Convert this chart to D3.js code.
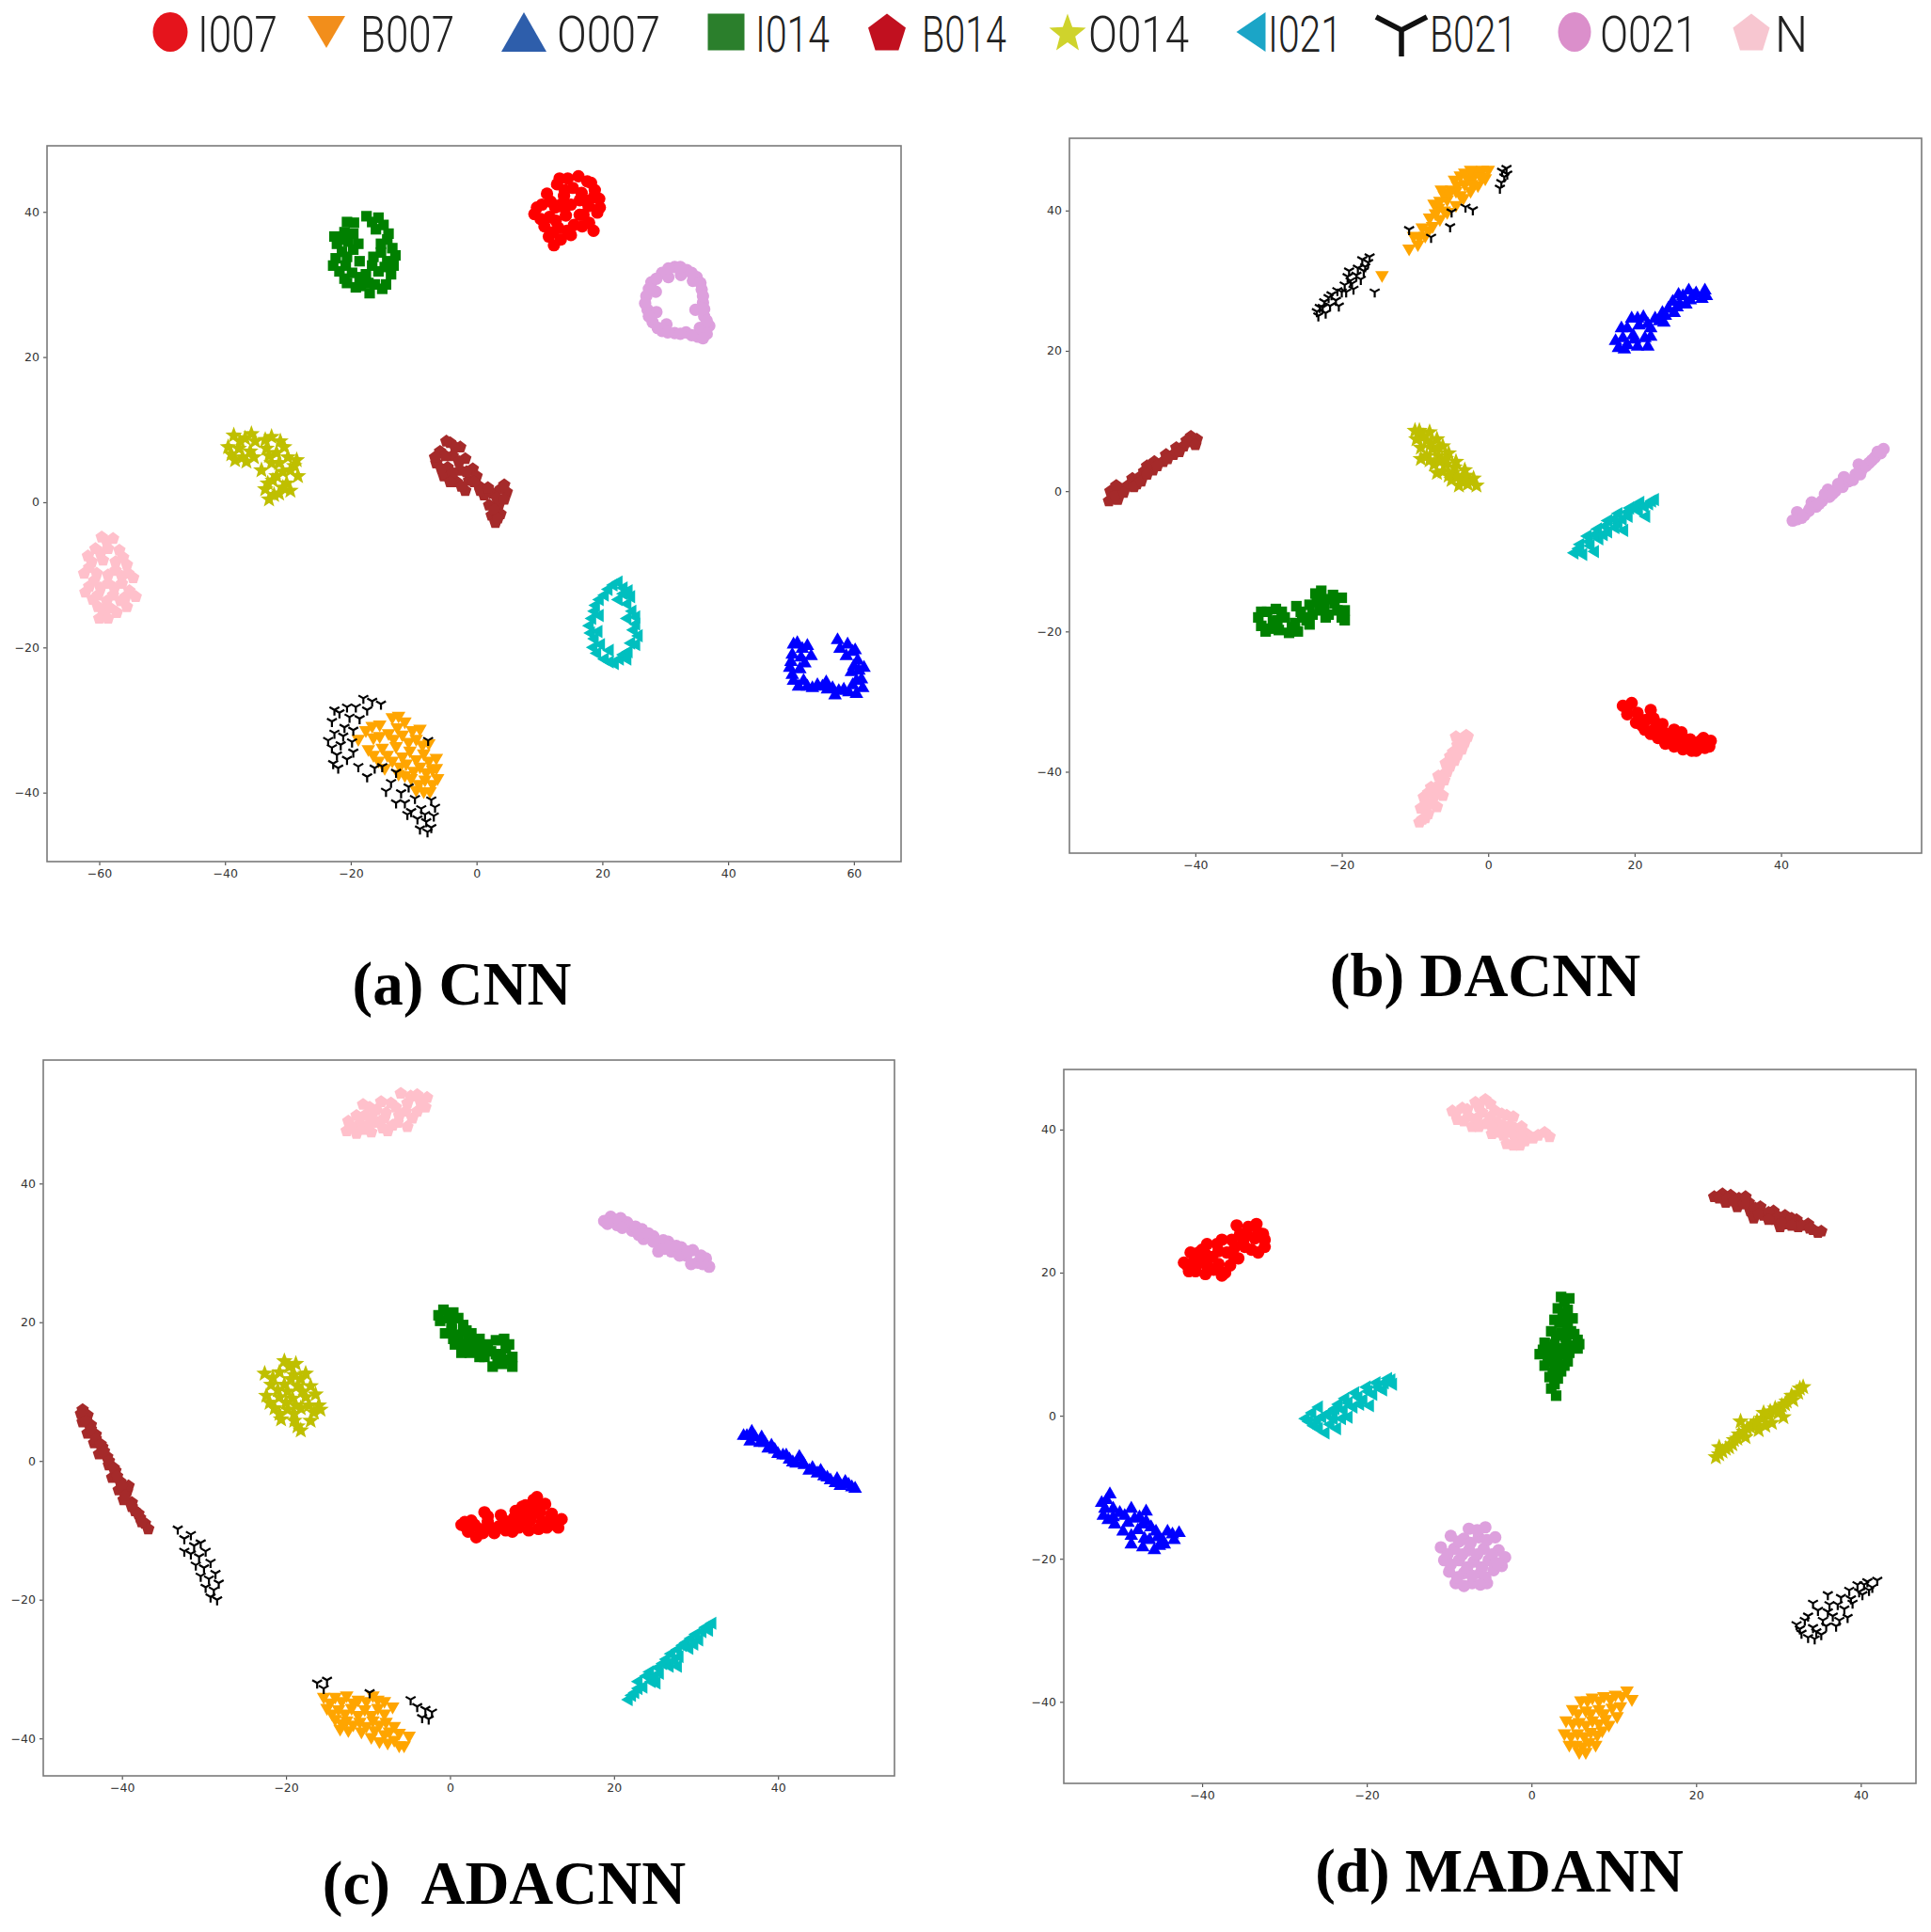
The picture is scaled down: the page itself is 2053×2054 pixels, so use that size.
<!DOCTYPE html>
<html><head><meta charset="utf-8">
<script src="https://cdn.jsdelivr.net/npm/d3@7"></script>
<style>body{margin:0;background:#fff}</style>
</head><body>
<svg id="chart" width="2053" height="2054" xmlns="http://www.w3.org/2000/svg"></svg>
<script>
// ---------------- DATA ----------------
const classNames = ["I007","B007","O007","I014","B014","O014","I021","B021","O021","N"];
const markerTypes = ["circle","triDown","triUp","square","pentagon","star","triLeft","tri1","circle","pentagon"];
const plotColors = ["#ff0000","#ffa500","#0000ff","#008000","#a52a2a","#bfbf00","#00bfbf","#000000","#dda0dd","#ffc0cb"];
const legendColors = ["#e5141c","#f28e1b","#2e5eab","#2b7f2c","#c1101f","#cfd32c","#1ba5c7","#111111","#db8fcb","#f7c6d0"];
const panelTitles = ["(a) CNN","(b) DACNN","(c)\u00a0\u00a0ADACNN","(d) MADANN"];
const xTicksCNN = [-60,-40,-20,0,20,40,60];
const ticks40 = [-40,-20,0,20,40];

// (a) CNN
const cnn_I007 = [[14.5,44.6],[16.2,44.9],[17.6,44.2],[12.8,43.8],[15.3,43.3],[18.8,43.0],[11.2,42.5],[13.9,42.2],[16.7,42.6],[19.5,41.8],[10.4,41.0],[12.5,40.6],[15.0,41.0],[17.8,40.8],[9.2,39.7],[11.6,39.3],[14.2,39.5],[16.4,39.6],[19.2,39.9],[10.8,38.0],[13.0,37.8],[15.5,38.2],[17.9,38.5],[11.5,36.6],[13.4,36.2],[15.0,36.8],[12.3,35.4],[18.6,37.4],[16.4,41.6],[14.0,40.5],
  [13.2,44.6],[18.2,44.0],[11.8,41.4],[14.0,43.0],[17.2,41.6],[18.6,42.0],[10.2,39.0],[12.6,38.8],[16.8,38.0],[14.4,37.4],[12.2,37.2],[9.6,40.6],[19.6,40.6],[17.0,39.6],[13.4,41.0]];
const cnn_B007 = [[-13.4,-29.6],[-11.4,-30.2],[-9.0,-31.2],[-15.4,-30.6],[-17.6,-31.4],[-18.8,-32.6],[-16.4,-32.4],[-14.0,-31.8],[-11.8,-32.0],[-9.6,-32.6],[-7.6,-33.2],[-17.2,-34.0],[-15.0,-33.8],[-12.8,-33.6],[-10.6,-34.2],[-8.4,-34.6],[-6.4,-35.2],[-15.6,-35.6],[-13.4,-35.6],[-11.2,-36.0],[-9.0,-36.4],[-7.0,-36.8],[-12.4,-37.4],[-10.4,-38.0],[-8.2,-38.2],[-6.2,-38.0],[-9.6,-39.6],[-7.4,-39.8],
  [-12.4,-29.4],[-16.6,-30.8],[-10.2,-31.4],[-12.6,-31.0],[-15.4,-32.2],[-13.2,-32.6],[-10.8,-33.0],[-8.6,-33.4],[-16.4,-34.8],[-14.2,-34.8],[-11.8,-35.0],[-9.6,-35.4],[-7.6,-35.6],[-14.6,-36.6],[-12.2,-36.4],[-10.0,-37.0],[-8.0,-37.2],[-6.4,-36.6],[-11.4,-37.6],[-9.2,-38.8],[-7.0,-38.8],[-8.4,-39.8]];
const cnn_O007 = [[51.0,-19.4],[52.6,-19.8],[57.4,-19.0],[59.0,-19.6],[60.2,-20.4],[50.2,-21.0],[51.6,-21.4],[53.2,-21.2],[58.8,-21.2],[60.6,-21.8],[61.6,-22.8],[49.8,-22.8],[51.4,-23.0],[59.6,-23.4],[61.2,-24.4],[50.4,-24.6],[52.0,-24.6],[59.8,-25.2],[53.4,-25.6],[55.0,-25.4],[56.6,-25.6],[58.4,-25.8],[57.0,-26.6],[60.4,-26.4],[55.6,-24.8],
  [50.4,-19.6],[51.8,-20.2],[57.8,-20.2],[59.8,-20.6],[50.0,-22.0],[52.2,-22.2],[60.0,-22.6],[50.2,-23.8],[60.8,-23.2],[51.2,-25.4],[52.6,-25.4],[54.2,-25.2],[55.8,-25.8],[57.6,-26.0],[59.2,-26.2],[61.4,-25.6],[60.4,-24.6]];
const cnn_I014 = [[-19.5,38.5],[-17.5,39.4],[-15.6,39.2],[-21.0,37.2],[-16.0,37.6],[-14.0,37.0],[-22.2,35.6],[-20.4,35.9],[-15.2,35.6],[-13.4,35.0],[-22.4,33.6],[-20.6,33.8],[-18.6,33.2],[-16.4,33.8],[-14.2,33.2],[-21.8,31.8],[-19.8,31.6],[-17.6,31.4],[-15.6,31.8],[-13.6,31.4],[-20.6,30.2],[-18.4,29.8],[-16.2,30.0],[-14.4,30.0],[-17.0,28.8],[-19.6,37.0],[-21.4,34.5],
  [-20.6,38.6],[-16.6,38.6],[-14.8,38.2],[-22.6,36.6],[-14.2,36.2],[-21.4,36.2],[-12.9,34.0],[-19.6,34.8],[-15.2,34.4],[-22.8,32.6],[-20.8,32.6],[-16.6,32.6],[-14.6,32.4],[-18.6,31.0],[-21.0,30.8],[-15.0,29.4],[-19.2,29.6],[-17.2,30.2],[-13.2,32.6],[-18.8,35.6]];
const cnn_B014 = [[-4.2,8.2],[-2.6,7.6],[-5.8,7.0],[-3.8,6.4],[-1.8,6.0],[-6.4,5.4],[-4.6,4.8],[-2.6,4.4],[-0.6,4.6],[-5.2,3.6],[-3.2,2.8],[-1.2,3.0],[0.4,2.2],[-1.8,1.6],[1.2,1.0],[2.6,1.2],[3.8,1.8],[4.8,1.4],[2.0,-0.4],[3.6,-0.2],[2.4,-1.8],[3.8,-1.6],[3.0,-2.8],[0.0,3.6],[4.4,2.4],
  [-3.4,7.6],[-5.0,6.4],[-2.8,5.6],[-5.6,4.6],[-3.8,4.0],[-1.6,4.2],[-4.2,2.8],[-0.4,2.8],[-2.4,2.2],[0.6,1.6],[1.8,2.0],[3.2,0.6],[2.8,-1.0],[4.4,0.4],[3.4,-2.2],[-6.6,6.2],[-4.8,8.4]];
const cnn_O014 = [[-38.6,9.2],[-36.8,8.8],[-35.2,8.4],[-39.5,7.6],[-37.8,7.4],[-36.0,7.0],[-38.4,5.8],[-36.6,5.6],[-32.6,9.0],[-31.2,8.4],[-33.4,7.4],[-31.8,6.8],[-30.0,6.2],[-29.0,5.0],[-32.6,5.4],[-34.2,4.4],[-30.8,4.2],[-28.4,3.6],[-32.4,3.0],[-30.2,2.6],[-33.6,1.8],[-31.4,1.2],[-33.0,0.4],[-29.6,1.6],
  [-37.6,8.4],[-35.8,9.4],[-39.0,6.6],[-37.2,6.2],[-35.4,6.2],[-33.6,8.6],[-30.6,7.6],[-33.0,6.4],[-31.4,5.4],[-29.6,4.4],[-31.8,3.6],[-33.2,2.6],[-30.8,2.0],[-28.6,5.8],[-32.2,1.0]];
const cnn_I021 = [[21.8,-11.4],[23.4,-11.8],[20.4,-12.8],[24.6,-13.0],[19.0,-14.2],[18.4,-16.0],[19.6,-15.6],[18.2,-18.0],[19.4,-17.8],[18.6,-20.0],[19.8,-19.6],[20.4,-21.6],[22.0,-22.2],[23.4,-21.0],[21.2,-20.4],[24.8,-15.0],[25.4,-16.8],[25.8,-18.4],[24.6,-19.4],[25.0,-17.6],[24.0,-14.0],[22.6,-13.4],[24.2,-20.6],
  [21.0,-12.0],[22.6,-11.0],[24.2,-12.2],[19.6,-13.4],[18.8,-15.0],[18.0,-17.0],[18.8,-18.8],[19.2,-20.8],[21.2,-22.0],[22.8,-21.6],[24.0,-21.6],[25.4,-15.8],[25.4,-19.6],[24.0,-16.0],[23.4,-12.6]];
const cnn_B021 = [[-18.0,-27.0],[-16.6,-27.4],[-15.2,-27.8],[-19.2,-28.2],[-17.4,-28.6],[-21.8,-29.0],[-20.2,-29.6],[-23.0,-30.2],[-21.0,-31.0],[-22.6,-31.8],[-19.6,-31.4],[-23.6,-32.8],[-21.6,-33.4],[-19.8,-33.0],[-22.2,-34.8],[-20.6,-35.4],[-18.8,-36.4],[-22.0,-36.6],[-17.4,-37.8],[-15.0,-36.4],[-13.6,-38.6],[-14.4,-39.8],[-12.0,-40.0],[-10.8,-39.2],[-11.4,-41.4],[-9.8,-40.8],[-10.4,-42.6],[-8.8,-42.2],[-9.4,-43.6],[-8.0,-44.0],[-7.2,-44.8],[-6.8,-43.2],[-7.7,-32.8],[-7.2,-41.0],
  [-22.6,-28.6],[-20.6,-28.2],[-18.6,-29.8],[-23.0,-33.8],[-21.2,-32.2],[-22.8,-36.0],[-19.6,-34.4],[-16.2,-36.6],[-12.8,-37.2],[-12.8,-41.4],[-11.0,-43.0],[-8.2,-43.0],[-9.0,-45.0],[-7.8,-45.4],[-6.6,-42.0]];
const cnn_O021 = [[29.5,31.6],[31.5,32.4],[33.4,32.0],[35.0,31.0],[27.8,30.3],[27.0,28.4],[27.2,26.5],[28.0,24.8],[29.5,23.6],[31.5,23.3],[33.3,23.4],[35.2,22.8],[35.8,29.3],[36.0,27.5],[36.2,25.6],[37.0,24.3],[35.5,24.0],[30.5,31.0],[28.5,29.0],[28.6,26.2],[30.2,24.5],[34.4,30.5],[34.8,26.5],[36.6,23.2],[32.5,31.3],
  [28.6,30.8],[30.5,32.2],[32.4,32.4],[34.2,31.6],[27.4,29.4],[26.8,27.4],[27.4,25.6],[28.8,24.0],[30.4,23.4],[32.4,23.2],[34.2,23.0],[35.6,30.2],[36.0,28.4],[36.2,26.6],[36.6,25.0],[36.0,22.6]];
const cnn_N = [[-59.6,-4.8],[-57.8,-5.0],[-60.6,-6.4],[-58.6,-6.4],[-56.8,-6.6],[-61.2,-8.2],[-59.4,-8.0],[-57.4,-8.2],[-55.6,-8.6],[-62.4,-9.8],[-60.4,-9.8],[-58.6,-10.0],[-56.4,-10.2],[-54.6,-10.4],[-61.6,-11.6],[-59.8,-11.8],[-57.6,-11.8],[-55.2,-12.2],[-61.0,-13.4],[-58.8,-13.6],[-56.6,-13.6],[-54.2,-13.0],[-59.4,-15.0],[-57.2,-15.2],[-60.0,-16.0],
  [-58.8,-5.4],[-61.8,-7.4],[-59.8,-7.0],[-56.2,-7.6],[-61.6,-9.0],[-57.4,-9.4],[-55.4,-9.8],[-60.8,-10.8],[-58.6,-11.2],[-56.4,-11.2],[-62.2,-12.4],[-60.2,-12.8],[-57.8,-12.8],[-55.8,-13.0],[-60.2,-14.4],[-58.2,-14.6],[-55.6,-14.4],[-58.6,-16.0]];

// (b) DACNN
const dacnn_I007 = [[18.4,-30.6],[19.6,-30.2],[19.0,-31.8],[20.4,-31.6],[20.2,-33.0],[21.6,-32.6],[21.4,-34.0],[22.8,-33.8],[23.2,-35.2],[24.4,-34.6],[24.2,-36.0],[25.6,-35.6],[26.4,-34.4],[26.6,-36.8],[27.6,-35.4],[27.8,-37.0],[28.6,-36.0],[29.4,-35.2],[30.4,-35.6],[29.6,-36.6],[22.2,-31.2],[25.4,-34.0],
  [19.0,-30.8],[20.6,-32.4],[21.0,-33.4],[22.2,-34.6],[23.4,-34.2],[24.6,-35.4],[25.4,-36.4],[26.2,-35.2],[27.2,-36.2],[28.4,-37.0],[29.0,-35.6],[30.2,-36.4],[22.6,-32.4],[23.8,-33.2]];
const dacnn_B007 = [[-10.8,34.6],[-9.6,35.2],[-10.2,36.4],[-8.6,36.4],[-9.0,37.6],[-7.6,37.8],[-8.0,39.0],[-6.6,38.8],[-5.6,39.8],[-6.8,40.4],[-4.4,40.8],[-5.6,41.6],[-3.4,41.8],[-4.4,42.8],[-2.4,42.8],[-3.2,43.8],[-1.4,43.6],[-2.0,44.8],[-0.4,44.6],[-0.8,45.8],[-1.6,45.6],[0.0,45.8],[-5.0,43.0],[-6.0,42.2],[-7.2,39.6],[-3.8,45.0],[-14.5,30.8],
  [-6.6,41.4],[-5.4,42.6],[-4.2,43.6],[-2.8,44.6],[-1.0,44.8],[-4.6,44.4],[-3.2,45.4],[-2.4,45.8],[-7.4,41.0],[-6.0,40.0],[-9.4,36.2],[-8.2,37.2],[-3.8,42.2],[-2.2,43.8],[-6.4,43.0]];
const dacnn_O007 = [[17.8,20.4],[19.0,20.8],[20.4,20.6],[18.4,21.8],[19.8,22.2],[21.4,21.8],[19.0,23.2],[20.6,23.6],[22.2,23.2],[21.2,24.8],[22.8,24.6],[23.8,25.4],[24.6,26.0],[25.4,25.4],[25.2,27.0],[26.2,26.6],[26.6,27.8],[27.6,27.2],[28.4,28.2],[27.4,28.6],[29.2,27.4],[29.8,27.8],[22.2,22.0],[24.0,24.0],
  [18.6,20.2],[20.0,21.6],[18.2,23.2],[20.4,24.6],[21.8,23.8],[23.4,24.2],[24.2,25.0],[25.8,26.2],[27.0,26.6],[28.0,27.8],[29.6,28.6],[26.0,28.0],[21.8,20.6],[17.4,21.4],[19.6,24.6]];
const dacnn_I014 = [[-31.4,-18.0],[-30.2,-17.2],[-31.0,-19.2],[-29.4,-18.6],[-28.6,-19.8],[-27.8,-18.0],[-29.0,-16.8],[-27.2,-20.2],[-26.4,-18.8],[-25.6,-17.2],[-24.8,-18.4],[-24.4,-16.2],[-23.6,-14.6],[-23.0,-17.0],[-22.2,-15.4],[-21.8,-17.6],[-21.0,-16.0],[-20.0,-15.2],[-19.6,-17.0],[-19.6,-18.4],[-22.8,-14.2],[-26.2,-16.4],[-30.4,-20.0],
  [-31.0,-17.2],[-29.8,-19.6],[-28.2,-17.2],[-26.8,-19.4],[-25.4,-18.0],[-24.0,-17.6],[-23.4,-15.8],[-22.4,-16.6],[-21.2,-14.8],[-20.6,-17.0],[-20.0,-18.0],[-24.4,-19.0],[-28.8,-18.4],[-26.0,-20.0],[-22.2,-18.0]];
const dacnn_B014 = [[-51.8,-1.4],[-50.6,-1.2],[-51.6,0.0],[-50.2,0.2],[-49.2,0.8],[-48.6,1.8],[-47.6,2.0],[-47.0,2.8],[-45.8,3.0],[-45.6,4.2],[-44.4,4.2],[-44.0,5.2],[-43.0,5.2],[-42.6,6.2],[-41.6,6.4],[-40.8,7.0],[-39.8,7.4],[-40.6,7.8],[-46.6,3.6],[-48.0,1.0],
  [-51.0,-0.6],[-49.8,-0.2],[-48.4,0.6],[-47.4,1.4],[-46.6,2.4],[-45.2,3.6],[-43.8,4.6],[-42.2,5.6],[-41.2,7.2],[-40.0,6.6],[-50.8,0.8]];
const dacnn_O014 = [[-9.4,8.6],[-8.0,8.4],[-9.8,7.4],[-8.4,7.2],[-7.0,7.4],[-9.2,6.2],[-7.6,6.0],[-6.2,6.4],[-8.4,5.0],[-6.8,5.0],[-5.4,5.4],[-7.4,3.8],[-5.8,3.8],[-4.4,4.2],[-6.2,2.8],[-4.8,2.6],[-3.2,3.0],[-5.0,1.6],[-3.6,1.4],[-2.0,1.8],[-4.0,0.8],[-1.6,0.8],
  [-8.8,7.8],[-7.8,6.8],[-6.8,6.2],[-9.2,4.6],[-8.0,4.4],[-6.6,4.2],[-7.0,2.6],[-5.4,2.2],[-4.2,2.0],[-3.0,2.2],[-2.8,1.0],[-5.8,4.6],[-4.6,3.4],[-10.0,8.6]];
const dacnn_I021 = [[11.8,-8.8],[13.0,-9.0],[12.6,-7.6],[14.0,-7.8],[13.6,-6.4],[15.2,-6.8],[15.0,-5.4],[16.4,-5.8],[16.4,-4.2],[17.8,-4.6],[17.8,-3.2],[19.2,-3.6],[19.4,-2.4],[20.6,-2.8],[20.8,-1.6],[22.0,-1.8],[22.8,-1.2],[21.6,-3.6],[18.6,-5.6],[14.6,-8.6],
  [12.4,-8.2],[13.8,-7.2],[14.6,-6.2],[15.8,-6.2],[16.0,-5.0],[17.2,-4.0],[18.4,-4.0],[19.0,-3.0],[20.2,-2.2],[21.4,-2.2],[22.4,-1.4],[17.4,-5.2]];
const dacnn_B021 = [[-23.2,25.0],[-22.2,25.4],[-23.0,26.2],[-21.6,26.4],[-22.4,27.0],[-20.8,27.2],[-21.4,28.0],[-20.0,28.4],[-19.6,29.4],[-18.6,29.6],[-19.2,30.6],[-18.0,30.8],[-17.8,31.8],[-16.8,32.0],[-17.2,33.0],[-16.2,33.4],[-20.4,26.4],[-18.4,28.8],[-15.5,28.4],[1.9,45.6],[2.5,46.0],[2.2,44.8],[1.8,44.0],[2.6,45.2],[1.6,43.2],[-10.8,37.3],[-7.8,36.2],[-5.2,37.7],[-5.0,39.8],[-3.1,40.5],[-2.1,40.1],
  [-22.6,26.2],[-21.8,27.6],[-20.6,28.6],[-19.4,28.4],[-18.8,30.0],[-17.4,30.2],[-17.0,31.4],[-16.4,32.6],[-23.4,25.6],[-19.0,31.4]];
const dacnn_O021 = [[41.6,-4.2],[42.8,-3.8],[42.2,-3.0],[43.8,-2.8],[44.8,-2.2],[45.6,-1.4],[46.6,-0.8],[47.4,0.0],[46.4,0.2],[48.4,0.6],[49.2,1.4],[48.6,2.0],[50.2,2.4],[51.0,3.0],[50.6,3.8],[52.0,4.0],[52.8,4.8],[53.6,5.4],[54.0,6.0],[44.2,-1.6],
  [42.2,-4.0],[43.2,-3.4],[44.0,-2.4],[45.2,-1.8],[46.0,-0.4],[47.0,-0.4],[47.8,1.0],[49.8,1.6],[50.8,2.4],[51.6,3.6],[52.4,4.4],[53.2,5.6]];
const dacnn_N = [[-9.0,-46.8],[-8.2,-46.0],[-9.2,-45.2],[-8.0,-44.6],[-8.8,-43.6],[-7.4,-43.4],[-7.8,-42.2],[-6.6,-41.8],[-6.4,-40.6],[-5.6,-40.0],[-5.8,-38.8],[-4.6,-38.4],[-4.8,-37.2],[-3.6,-36.8],[-3.8,-35.6],[-2.8,-35.0],[-4.4,-35.0],[-7.0,-45.0],[-6.2,-43.4],
  [-8.6,-46.6],[-8.6,-45.0],[-7.6,-44.6],[-8.2,-43.0],[-7.0,-42.6],[-6.8,-40.6],[-6.0,-41.2],[-5.2,-39.2],[-5.2,-37.8],[-4.2,-37.6],[-4.2,-36.2],[-3.2,-35.8],[-3.0,-34.8],[-9.4,-47.2]];

// (c) ADACNN
const adacnn_I007 = [[1.4,-9.2],[2.6,-8.6],[2.2,-10.2],[3.6,-9.8],[3.2,-11.0],[4.2,-7.4],[4.6,-8.8],[5.4,-10.4],[6.0,-9.4],[7.2,-8.8],[7.6,-10.2],[8.0,-7.2],[8.8,-8.6],[9.2,-6.4],[9.6,-10.0],[10.2,-7.6],[10.6,-5.2],[11.2,-8.8],[11.6,-6.2],[12.4,-7.6],[12.8,-9.2],[13.6,-8.4],[6.2,-7.8],[10.8,-9.8],
  [1.8,-8.8],[2.0,-9.6],[3.0,-9.2],[4.0,-10.4],[4.6,-8.0],[5.0,-9.6],[6.6,-8.6],[6.8,-10.0],[7.8,-8.2],[8.4,-9.6],[8.6,-7.8],[9.6,-7.4],[9.8,-8.6],[10.4,-6.4],[11.0,-7.4],[11.8,-9.6],[12.2,-8.4],[13.2,-9.6],[10.2,-5.6],[8.8,-6.6]];
const adacnn_B007 = [[-15.4,-34.0],[-14.0,-34.0],[-12.6,-33.8],[-11.2,-34.4],[-9.4,-33.8],[-8.0,-34.6],[-15.0,-35.6],[-13.6,-35.8],[-12.0,-35.6],[-10.4,-35.8],[-8.8,-35.6],[-7.0,-35.4],[-14.0,-37.2],[-12.6,-37.4],[-11.0,-37.6],[-9.4,-37.4],[-7.8,-37.6],[-12.4,-38.8],[-10.8,-39.0],[-9.2,-38.8],[-7.4,-39.0],[-8.6,-40.4],[-6.8,-40.2],[-5.6,-41.0],[-5.0,-39.6],[-13.4,-38.6],
  [-14.6,-34.8],[-13.2,-34.6],[-11.8,-34.8],[-10.2,-34.6],[-8.8,-34.4],[-14.4,-36.4],[-12.8,-36.4],[-11.2,-36.6],[-9.6,-36.6],[-8.0,-36.4],[-13.2,-37.8],[-11.8,-38.0],[-10.2,-38.2],[-8.6,-38.0],[-6.8,-38.2],[-9.6,-39.8],[-8.0,-39.4],[-6.2,-39.2],[-7.6,-40.6],[-6.2,-41.0]];
const adacnn_O007 = [[35.8,3.6],[36.8,4.2],[36.6,2.8],[37.8,2.6],[38.8,1.8],[39.6,1.6],[40.6,0.8],[41.4,0.2],[42.2,-0.4],[43.2,-0.6],[43.8,-1.4],[44.8,-1.8],[45.6,-2.2],[46.4,-2.8],[47.2,-2.6],[47.6,-3.6],[48.6,-3.4],[49.4,-4.0],[38.0,3.4],[42.6,0.6],
  [36.2,3.6],[37.2,3.4],[38.4,2.6],[39.2,2.2],[40.0,1.0],[41.0,0.8],[41.8,-0.2],[43.0,-0.2],[44.2,-1.0],[45.2,-1.4],[46.0,-2.4],[47.0,-3.2],[48.2,-3.0],[49.0,-3.8]];
const adacnn_I014 = [[-0.8,21.8],[0.4,21.4],[-1.2,20.2],[0.2,19.8],[1.6,19.6],[-0.6,18.4],[1.0,18.2],[2.6,18.4],[3.6,17.6],[1.8,16.8],[3.2,16.2],[4.6,16.8],[5.6,17.4],[4.2,15.0],[5.6,15.4],[6.8,16.2],[7.6,15.0],[6.4,14.0],[7.6,13.6],[5.2,13.6],[2.4,15.6],[0.6,16.8],[6.6,17.6],
  [-1.4,21.0],[-0.2,20.6],[1.0,20.6],[0.2,19.0],[2.0,18.8],[0.4,17.6],[2.2,17.6],[3.0,17.0],[4.0,16.4],[5.0,15.8],[6.2,15.4],[7.0,14.6],[5.8,14.2],[7.2,16.8],[1.4,15.6],[3.6,15.0]];
const adacnn_B014 = [[-44.8,7.4],[-44.2,6.6],[-44.8,5.6],[-43.8,5.2],[-44.2,4.0],[-43.2,3.8],[-43.4,2.6],[-42.4,2.0],[-42.8,1.0],[-41.8,0.6],[-41.6,-0.6],[-40.8,-1.4],[-41.2,-2.4],[-40.2,-3.0],[-40.4,-4.2],[-39.4,-4.4],[-39.8,-5.6],[-38.8,-6.0],[-38.4,-7.2],[-37.8,-8.2],[-37.2,-9.0],[-36.8,-9.8],[-39.2,-3.6],
  [-45.0,6.8],[-44.4,5.8],[-43.8,4.6],[-43.2,3.2],[-42.6,2.4],[-42.2,1.4],[-41.6,0.0],[-41.0,-1.0],[-40.6,-2.2],[-40.0,-3.6],[-39.6,-5.0],[-38.8,-6.6],[-38.0,-7.6],[-37.6,-8.8]];
const adacnn_O014 = [[-20.2,14.4],[-18.8,14.0],[-22.6,12.6],[-20.8,12.8],[-19.0,12.4],[-17.6,12.6],[-21.8,11.0],[-20.2,11.0],[-18.6,10.8],[-17.0,10.8],[-22.4,9.4],[-20.8,9.2],[-19.2,9.0],[-17.6,9.2],[-16.0,8.0],[-21.4,7.6],[-19.8,7.4],[-18.2,7.6],[-20.6,6.0],[-19.0,5.8],[-18.2,4.4],[-16.6,7.0],
  [-19.6,13.6],[-21.6,12.0],[-18.2,11.8],[-19.4,11.8],[-21.0,10.2],[-19.8,10.0],[-18.0,10.0],[-16.4,9.6],[-22.0,8.4],[-20.0,8.4],[-18.8,8.0],[-17.2,8.0],[-20.8,6.8],[-19.0,6.8],[-18.6,5.0],[-17.0,5.8],[-15.8,7.4]];
const adacnn_I021 = [[21.8,-34.4],[22.6,-33.4],[23.6,-32.6],[23.0,-31.8],[24.6,-31.8],[24.4,-30.4],[25.6,-30.6],[26.0,-29.2],[26.8,-29.6],[27.0,-27.8],[28.0,-28.2],[28.4,-26.6],[29.2,-27.0],[29.4,-25.6],[30.4,-25.8],[30.8,-24.6],[31.6,-24.4],[32.0,-23.4],[25.2,-32.0],[27.8,-29.6],
  [22.2,-33.8],[23.0,-32.8],[24.0,-31.0],[25.0,-31.2],[25.4,-29.8],[26.4,-28.6],[27.4,-28.8],[27.8,-27.2],[28.8,-26.2],[29.8,-26.4],[30.0,-25.0],[31.2,-24.0]];
const adacnn_B021 = [[-33.2,-9.8],[-32.4,-11.2],[-31.6,-10.6],[-31.2,-12.2],[-30.4,-11.8],[-31.6,-13.4],[-30.6,-13.8],[-29.8,-13.0],[-31.0,-15.0],[-30.0,-15.4],[-29.2,-14.6],[-30.4,-16.6],[-29.4,-17.0],[-28.6,-16.2],[-29.8,-18.2],[-28.8,-18.6],[-28.2,-17.6],[-29.2,-19.6],[-28.4,-20.0],[-32.4,-13.0],[-16.2,-32.0],[-15.0,-31.6],[-15.4,-32.8],[-9.8,-33.4],[-4.8,-34.4],[-4.0,-35.4],[-3.0,-35.8],[-2.2,-36.2],[-3.4,-37.0],[-2.6,-37.2]];
const adacnn_O021 = [[18.8,34.6],[19.6,35.2],[20.4,34.0],[21.6,34.4],[22.2,33.2],[23.4,33.4],[23.6,32.0],[24.8,32.4],[25.6,31.2],[26.6,31.6],[27.0,30.2],[28.2,30.8],[28.8,29.6],[29.6,30.4],[30.2,28.6],[31.2,29.2],[31.6,28.0],[29.4,28.4],[25.4,30.2],[20.8,35.0],
  [19.2,34.2],[20.6,34.8],[21.0,33.6],[22.6,33.8],[23.0,32.6],[24.2,32.8],[24.8,31.6],[26.0,31.8],[26.2,30.6],[27.6,31.0],[28.0,29.6],[29.0,30.2],[30.8,28.4],[30.6,29.6]];
const adacnn_N = [[-12.6,47.6],[-11.4,47.2],[-12.4,49.0],[-11.0,48.6],[-9.6,47.4],[-10.4,49.8],[-8.8,48.8],[-7.6,47.6],[-9.0,50.6],[-7.8,50.2],[-6.4,48.8],[-5.2,48.2],[-8.4,51.8],[-6.6,51.0],[-5.4,50.4],[-4.8,52.6],[-3.6,51.8],[-2.8,52.4],[-6.0,53.0],[-4.0,50.4],[-10.6,51.4],
  [-12.0,48.2],[-10.6,47.8],[-11.4,49.8],[-9.8,48.6],[-8.2,48.0],[-9.6,49.6],[-8.0,49.4],[-7.0,48.4],[-6.2,49.8],[-4.6,49.4],[-7.2,51.6],[-5.2,51.6],[-4.0,52.8],[-3.0,51.0],[-9.8,51.0]];

// (d) MADANN
const madann_I007 = [[-42.2,21.4],[-41.4,22.8],[-41.6,20.2],[-40.2,21.4],[-40.0,23.2],[-39.6,19.8],[-38.6,20.4],[-38.8,22.2],[-38.2,24.0],[-37.2,20.0],[-37.0,22.8],[-36.4,24.6],[-35.6,22.0],[-35.4,25.4],[-34.8,23.6],[-34.4,26.4],[-33.6,24.8],[-33.2,22.8],[-32.6,25.4],[-33.4,26.8],[-32.4,23.6],[-36.6,21.0],[-39.4,24.0],[-35.8,26.6],
  [-41.8,21.0],[-41.0,21.6],[-40.8,20.2],[-39.4,21.0],[-39.6,22.6],[-38.0,21.2],[-38.0,23.0],[-37.6,24.6],[-36.2,22.4],[-36.0,23.6],[-35.0,24.6],[-34.6,25.4],[-34.0,23.2],[-33.2,25.6],[-32.4,24.6],[-37.6,19.6],[-40.4,22.8]];
const madann_B007 = [[6.0,-39.8],[7.4,-39.4],[8.8,-39.2],[10.2,-39.0],[11.6,-38.4],[12.2,-39.6],[5.0,-41.0],[6.6,-41.2],[8.2,-41.0],[9.8,-40.8],[4.2,-42.6],[5.8,-42.8],[7.4,-42.6],[9.0,-42.4],[10.4,-42.0],[4.0,-44.4],[5.6,-44.4],[7.2,-44.2],[8.6,-44.0],[4.6,-46.0],[6.2,-46.2],[7.8,-46.0],[6.6,-47.0],[9.4,-43.2],
  [6.8,-39.8],[8.2,-39.8],[9.6,-39.6],[11.0,-39.2],[5.6,-41.6],[7.2,-41.6],[8.8,-41.6],[10.8,-40.6],[5.0,-43.0],[6.6,-43.2],[8.2,-43.0],[4.8,-44.8],[6.4,-44.8],[8.0,-44.6],[5.4,-46.0],[7.0,-45.6],[5.8,-47.0]];
const madann_O007 = [[-52.2,-12.2],[-51.2,-11.0],[-50.8,-13.0],[-52.0,-14.0],[-50.6,-15.2],[-49.4,-14.0],[-48.6,-13.0],[-47.6,-14.2],[-46.8,-13.4],[-49.6,-16.2],[-47.8,-16.0],[-46.2,-15.6],[-45.4,-17.0],[-48.6,-18.0],[-47.2,-18.4],[-45.8,-18.8],[-44.6,-18.0],[-43.4,-17.4],[-42.8,-16.4],[-44.2,-16.2],[-51.4,-14.6],[-46.4,-17.4],
  [-51.8,-13.0],[-51.6,-11.8],[-50.8,-14.2],[-50.0,-13.6],[-49.0,-15.0],[-48.2,-14.4],[-47.2,-15.2],[-48.6,-16.8],[-47.0,-17.2],[-45.6,-16.2],[-44.8,-17.4],[-43.6,-16.6],[-46.8,-14.8],[-45.2,-18.2]];
const madann_I014 = [[3.6,16.6],[4.6,16.4],[3.2,15.0],[4.4,14.8],[2.8,13.4],[4.0,13.2],[5.0,13.6],[2.4,11.8],[3.6,11.6],[4.8,11.8],[5.6,10.6],[1.6,10.2],[2.8,10.0],[4.2,10.2],[1.0,8.6],[2.2,8.4],[3.4,8.6],[4.6,8.8],[1.6,7.0],[2.8,6.8],[4.0,7.0],[2.2,5.4],[3.2,5.2],[2.4,3.8],[3.0,2.8],[5.6,9.4],
  [4.0,16.0],[3.8,14.2],[3.4,13.0],[4.4,12.4],[3.0,11.2],[4.2,11.0],[5.2,11.4],[2.2,9.6],[3.4,9.4],[5.0,9.8],[2.0,7.6],[3.2,7.8],[4.4,7.6],[2.6,6.0],[3.6,6.2],[2.8,4.4],[2.2,8.0],[5.8,10.0],[1.4,9.2]];
const madann_B014 = [[22.2,30.6],[23.2,31.0],[24.2,30.8],[23.6,29.8],[25.2,30.4],[25.0,29.2],[26.4,29.8],[26.6,28.6],[27.8,29.2],[28.2,28.0],[29.4,28.6],[29.6,27.4],[30.8,28.0],[31.0,26.8],[32.2,27.4],[32.4,26.4],[33.6,26.8],[34.2,26.0],[35.2,25.8],[27.0,27.6],[30.2,26.4],
  [22.8,30.4],[23.8,30.4],[24.6,30.0],[25.8,29.6],[26.0,30.6],[27.2,29.0],[27.6,28.2],[28.8,28.4],[30.0,27.8],[30.4,27.0],[31.6,27.6],[31.6,26.6],[32.8,26.6],[33.8,26.2],[34.8,25.6],[28.8,27.4]];
const madann_O014 = [[22.4,-5.8],[23.2,-5.0],[22.8,-4.4],[24.0,-4.4],[24.6,-3.4],[25.2,-2.6],[26.0,-3.0],[26.2,-1.8],[27.0,-1.2],[27.6,-2.0],[28.0,-0.4],[28.8,0.0],[29.2,-1.0],[29.6,1.0],[30.4,1.4],[31.0,2.0],[31.6,2.8],[32.4,3.2],[33.0,4.0],[25.4,-0.8],[30.6,-0.2],
  [22.8,-5.4],[23.6,-4.6],[24.4,-4.0],[25.0,-3.2],[25.8,-2.2],[26.6,-1.6],[27.4,-0.8],[28.4,-1.4],[29.0,0.6],[30.0,0.4],[30.8,1.6],[31.8,2.2],[32.6,3.8],[28.2,0.4]];
const madann_I021 = [[-27.4,-0.4],[-26.6,0.4],[-26.4,-1.4],[-25.4,-0.2],[-25.0,-2.4],[-24.2,0.6],[-24.4,-1.2],[-23.4,1.6],[-23.0,-0.4],[-22.6,2.4],[-21.6,1.2],[-21.4,3.2],[-20.4,2.2],[-20.0,4.0],[-19.2,3.0],[-18.8,4.6],[-18.0,3.6],[-17.4,5.2],[-16.8,4.4],[-19.6,1.4],[-22.2,-0.2],[-25.8,1.2],
  [-27.0,-0.8],[-26.0,-0.6],[-25.8,-1.8],[-24.8,0.2],[-24.0,-0.4],[-23.8,1.0],[-22.8,0.8],[-22.2,1.8],[-21.0,2.6],[-20.8,1.6],[-19.8,3.4],[-18.6,4.0],[-17.8,4.6],[-17.0,5.0],[-23.6,-1.8]];
const madann_B021 = [[32.2,-29.2],[32.8,-30.4],[33.6,-28.0],[34.2,-29.6],[33.6,-31.0],[34.8,-27.2],[35.4,-28.6],[35.2,-30.6],[36.2,-26.4],[36.6,-28.0],[37.0,-29.4],[37.6,-25.4],[38.0,-27.0],[38.6,-24.4],[39.0,-26.2],[39.6,-23.6],[40.2,-25.0],[40.8,-23.2],[41.4,-24.0],[42.0,-23.0],[38.4,-28.2],[36.0,-25.0],[34.2,-26.2],
  [32.6,-29.8],[33.2,-28.6],[34.6,-30.2],[35.8,-29.4],[36.0,-27.4],[37.2,-26.4],[38.8,-25.6],[39.8,-24.6],[41.0,-24.4],[40.4,-23.6],[37.4,-28.6],[34.4,-31.2]];
const madann_O021 = [[-7.6,-15.8],[-5.6,-15.6],[-9.8,-16.8],[-8.2,-17.2],[-6.4,-17.0],[-4.4,-17.0],[-11.0,-18.4],[-9.4,-18.6],[-7.6,-18.8],[-5.8,-18.6],[-4.0,-18.8],[-10.6,-20.2],[-8.8,-20.2],[-7.0,-20.4],[-5.2,-20.2],[-3.2,-19.8],[-10.0,-21.8],[-8.2,-22.0],[-6.2,-22.0],[-4.6,-21.6],[-9.2,-23.4],[-7.2,-23.4],[-5.4,-23.4],[-3.6,-21.0],
  [-6.6,-16.0],[-8.8,-17.6],[-7.4,-17.8],[-5.4,-17.4],[-10.2,-19.4],[-8.4,-19.4],[-6.6,-19.4],[-4.8,-19.4],[-9.8,-20.8],[-7.8,-21.2],[-6.0,-21.2],[-4.2,-20.6],[-9.0,-22.6],[-7.2,-22.4],[-5.6,-22.6],[-8.2,-23.8],[-6.2,-23.6]];
const madann_N = [[-9.6,42.6],[-8.4,43.0],[-6.8,43.8],[-5.6,44.2],[-9.0,41.4],[-7.6,41.8],[-6.0,42.4],[-4.4,42.6],[-3.0,42.0],[-7.2,40.4],[-5.6,40.8],[-4.2,41.0],[-2.6,40.6],[-1.2,40.4],[-4.8,39.4],[-3.4,39.2],[-2.0,38.8],[-0.6,39.4],[0.8,39.2],[2.2,39.0],[-3.0,38.0],[-1.4,37.8],[-2.2,41.8],
  [-9.2,42.2],[-7.8,42.8],[-6.4,43.2],[-5.0,43.6],[-8.2,41.2],[-6.6,41.6],[-5.0,41.8],[-3.6,42.2],[-6.4,40.4],[-4.8,40.4],[-3.4,40.6],[-2.0,40.2],[-4.0,39.6],[-2.6,39.6],[-1.2,39.2],[0.2,38.8],[1.6,39.6],[-2.2,37.8],[-0.8,38.4]];

// ---------------- LAYOUT ----------------
const panels = [
  {title:panelTitles[0], frame:[50,155,958,916], xDomain:[-68.3,67.5], yDomain:[-49.5,49.1], xTicks:xTicksCNN, yTicks:ticks40, titleAt:[491,1068],
   series:[cnn_I007,cnn_B007,cnn_O007,cnn_I014,cnn_B014,cnn_O014,cnn_I021,cnn_B021,cnn_O021,cnn_N]},
  {title:panelTitles[1], frame:[1137,147,2043,907], xDomain:[-57.2,59.2], yDomain:[-51.6,50.3], xTicks:ticks40, yTicks:ticks40, titleAt:[1579,1059],
   series:[dacnn_I007,dacnn_B007,dacnn_O007,dacnn_I014,dacnn_B014,dacnn_O014,dacnn_I021,dacnn_B021,dacnn_O021,dacnn_N]},
  {title:panelTitles[2], frame:[46,1127,951,1888], xDomain:[-49.6,54.2], yDomain:[-45.4,57.8], xTicks:ticks40, yTicks:ticks40, titleAt:[536,2024],
   series:[adacnn_I007,adacnn_B007,adacnn_O007,adacnn_I014,adacnn_B014,adacnn_O014,adacnn_I021,adacnn_B021,adacnn_O021,adacnn_N]},
  {title:panelTitles[3], frame:[1131,1137,2037,1896], xDomain:[-56.8,46.7], yDomain:[-51.4,48.4], xTicks:ticks40, yTicks:ticks40, titleAt:[1594,2011],
   series:[madann_I007,madann_B007,madann_O007,madann_I014,madann_B014,madann_O014,madann_I021,madann_B021,madann_O021,madann_N]}
];

// ---------------- SHAPES ----------------
function regular(n, startDeg){
  return d3.range(n).map(k=>{const a=(startDeg+360*k/n)*Math.PI/180; return [Math.cos(a),Math.sin(a)];});
}
function starPts(){
  return d3.range(10).map(k=>{const a=(-90+36*k)*Math.PI/180; const rr=k%2?0.42:1; return [rr*Math.cos(a),rr*Math.sin(a)];});
}
const unitShapes = {
  triUp: regular(3,-90), triDown: regular(3,90), triLeft: regular(3,180),
  square: [[-1,-1],[1,-1],[1,1],[-1,1]], pentagon: regular(5,-90), star: starPts()
};
function polyPath(pts, sx, sy, ox=0, oy=0){
  return "M"+pts.map(p=>(ox+p[0]*sx).toFixed(2)+","+(oy+p[1]*sy).toFixed(2)).join("L")+"Z";
}
function tri1Path(a, ox=0, oy=0, sx=1, sy=1){
  const arms=[[0,1],[-0.866,-0.5],[0.866,-0.5]];
  return arms.map(p=>`M${ox},${oy}L${(ox+p[0]*a*sx).toFixed(2)},${(oy+p[1]*a*sy).toFixed(2)}`).join("");
}
const plotSize = {circle:6.6, triDown:8.4, triUp:8.4, triLeft:8.2, square:5.6, pentagon:7.0, star:9.4, tri1:6.0};
function plotMarkerPath(type){
  const r = plotSize[type];
  if(type==="circle") return d3.symbol(d3.symbolCircle, Math.PI*r*r)();
  if(type==="tri1") return tri1Path(r);
  return polyPath(unitShapes[type], r, r);
}

// ---------------- DRAW ----------------
const svg = d3.select("#chart");
svg.append("rect").attr("width",2053).attr("height",2054).attr("fill","#fff");
const fmt = d => d<0 ? "\u2212"+Math.abs(d) : String(d);

panels.forEach(p=>{
  const [x0,y0,x1,y1] = p.frame;
  const x = d3.scaleLinear().domain(p.xDomain).range([x0,x1]);
  const y = d3.scaleLinear().domain(p.yDomain).range([y1,y0]);
  const g = svg.append("g");
  const ax = g.append("g").attr("transform",`translate(0,${y1})`)
    .call(d3.axisBottom(x).tickValues(p.xTicks).tickSize(4).tickSizeOuter(0).tickPadding(4).tickFormat(fmt));
  const ay = g.append("g").attr("transform",`translate(${x0},0)`)
    .call(d3.axisLeft(y).tickValues(p.yTicks).tickSize(4).tickSizeOuter(0).tickPadding(4).tickFormat(fmt));
  [ax,ay].forEach(a=>{
    a.select(".domain").remove();
    a.selectAll("line").attr("stroke","#555").attr("stroke-width",1.2);
    a.selectAll("text").attr("font-family","DejaVu Sans, sans-serif").attr("font-size",12.5).attr("fill","#333");
  });
  const clip = "clip"+x0+"_"+y0;
  g.append("clipPath").attr("id",clip).append("rect").attr("x",x0).attr("y",y0).attr("width",x1-x0).attr("height",y1-y0);
  const pg = g.append("g").attr("clip-path",`url(#${clip})`);
  p.series.forEach((pts,i)=>{
    const type = markerTypes[i];
    const d = plotMarkerPath(type);
    const sel = pg.append("g").selectAll("path").data(pts).join("path")
      .attr("d", d)
      .attr("transform", q=>`translate(${x(q[0]).toFixed(2)},${y(q[1]).toFixed(2)})`);
    if(type==="tri1") sel.attr("fill","none").attr("stroke",plotColors[i]).attr("stroke-width",2.2);
    else sel.attr("fill",plotColors[i]);
  });
  g.append("rect").attr("x",x0).attr("y",y0).attr("width",x1-x0).attr("height",y1-y0)
    .attr("fill","none").attr("stroke","#7a7a7a").attr("stroke-width",1.6);
  g.append("text").attr("x",p.titleAt[0]).attr("y",p.titleAt[1]).attr("text-anchor","middle")
    .attr("font-family","Liberation Serif, 'Times New Roman', serif").attr("font-weight","bold")
    .attr("font-size",65).attr("fill","#000").text(p.title);
});

// ---------------- LEGEND ----------------
const legendMarkerX = [181,347,557,772,943,1135,1330,1490,1674,1862];
const legendMarkerW = [37,40,48,39,40,39,31,54,35,39];
const legendMarkerH = [42,34,42,39,39,39,42,42,42,39];
const legendTextX = [210,383,592,803,980,1157,1348,1520,1701,1887];
const legendTextW = [85,100,110,79,90,107,79,93,104,35];
const legendCY = 34;
const lg = svg.append("g");
classNames.forEach((name,i)=>{
  const type = markerTypes[i], cx = legendMarkerX[i], w = legendMarkerW[i], h = legendMarkerH[i];
  if(type==="circle"){
    lg.append("ellipse").attr("cx",cx).attr("cy",legendCY).attr("rx",w/2).attr("ry",h/2).attr("fill",legendColors[i]);
  } else if(type==="tri1"){
    lg.append("path").attr("d",tri1Path(1,cx,legendCY-2,w/1.732,h/1.5)).attr("fill","none")
      .attr("stroke",legendColors[i]).attr("stroke-width",5.5).attr("stroke-linecap","butt");
  } else {
    const pts = unitShapes[type];
    const ex = d3.extent(pts,p=>p[0]), ey = d3.extent(pts,p=>p[1]);
    const sx = w/(ex[1]-ex[0]), sy = h/(ey[1]-ey[0]);
    const ox = cx - (ex[0]+ex[1])/2*sx, oy = legendCY - (ey[0]+ey[1])/2*sy;
    lg.append("path").attr("d",polyPath(pts,sx,sy,ox,oy)).attr("fill",legendColors[i]);
  }
  lg.append("text").attr("x",legendTextX[i]).attr("y",55)
    .attr("font-family","Roboto, 'Open Sans', sans-serif").attr("font-weight",300)
    .attr("font-size",54).attr("fill","#222")
    .attr("textLength",legendTextW[i]).attr("lengthAdjust","spacingAndGlyphs").text(name);
});
</script>
</body></html>
